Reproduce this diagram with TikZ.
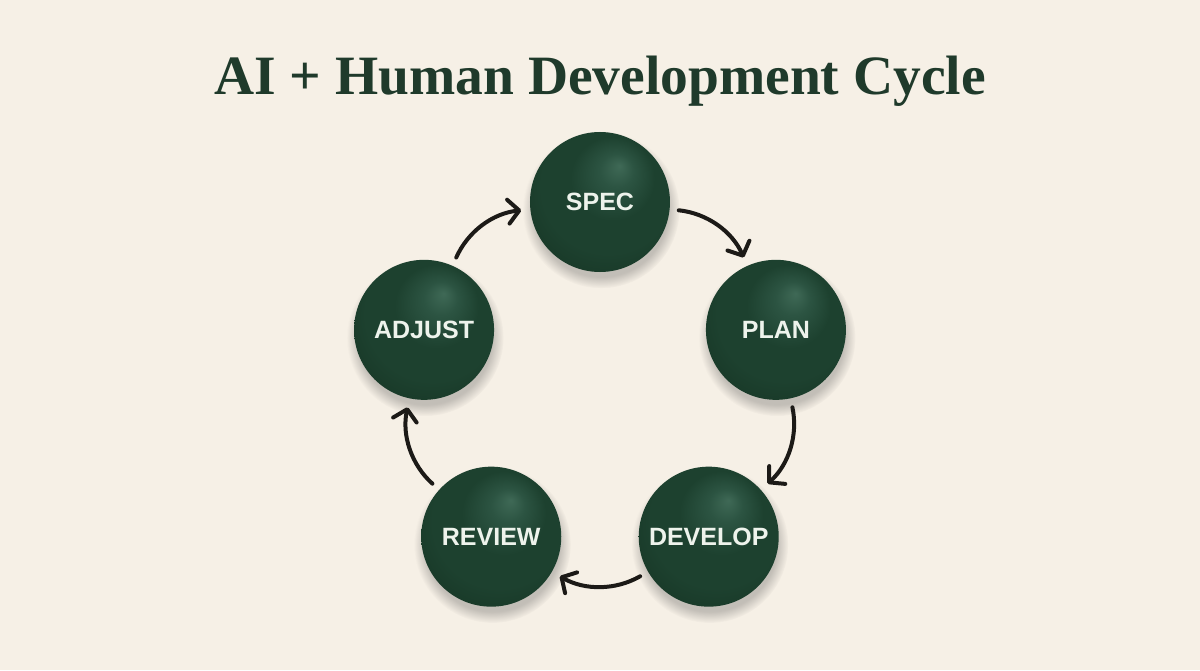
\documentclass[tikz,border=0pt]{standalone}
\usepackage{fontspec}
\setmainfont{Liberation Serif}
\newfontfamily\labelfont{Liberation Sans}
\usepackage{xcolor}
\definecolor{PaperBg}{HTML}{F6F0E6}
\definecolor{TitleGreen}{HTML}{1F3A2B}
\definecolor{BallHi}{HTML}{3F6956}
\definecolor{BallMid}{HTML}{2C5442}
\definecolor{BallBase}{HTML}{1D412F}
\definecolor{BallDark}{HTML}{183827}
\definecolor{BallRim}{HTML}{132F20}
\definecolor{InkDark}{HTML}{1C1A17}
\definecolor{LabelWhite}{HTML}{EEF3EC}
\usepackage{tikz}
\usetikzlibrary{arrows.meta, shadows, fadings}

\pgfdeclareradialshading{greenball}{\pgfpoint{7bp}{13bp}}{%
  color(0bp)=(BallHi); color(6bp)=(BallMid); color(15bp)=(BallBase);
  color(24bp)=(BallBase); color(32bp)=(BallDark); color(42bp)=(BallRim)}

\begin{document}
\begin{tikzpicture}[
  x=1pt, y=1pt,
  title/.style={
    anchor=base, inner sep=0pt,
    font=\fontsize{55.5}{60}\selectfont\bfseries, text=TitleGreen
  },
  ball/.style={
    circle, minimum size=140pt, inner sep=0pt,
    shading=greenball,
    font=\labelfont\fontsize{25}{28}\selectfont\bfseries, text=LabelWhite,
    circular drop shadow={shadow scale=1.12, shadow xshift=1pt,
      shadow yshift=-7pt, fill=black!70, opacity=0.3}
  },
  flow/.style={
    -{Straight Barb[length=11pt, width=24pt, line cap=round, line join=round]},
    line width=4pt, line cap=round, color=InkDark,
    shorten <=9pt, shorten >=9pt
  },
]

\fill[PaperBg] (-600,-283) rectangle (600,387);

\node[title] (title) at (0,292) {AI + Human Development Cycle};

\node[ball] (spec)    at (90:185)   {SPEC};
\node[ball] (plan)    at (18:185)   {PLAN};
\node[ball] (develop) at (-54:185)  {DEVELOP};
\node[ball] (review)  at (-126:185) {REVIEW};
\node[ball] (adjust)  at (162:185)  {ADJUST};

\draw[flow] (spec)    to[bend left=30] (plan);
\draw[flow] (plan)    to[bend left=30] (develop);
\draw[flow] (develop) to[bend left=30] (review);
\draw[flow] (review)  to[bend left=30] (adjust);
\draw[flow] (adjust)  to[bend left=30] (spec);

\end{tikzpicture}
\end{document}
